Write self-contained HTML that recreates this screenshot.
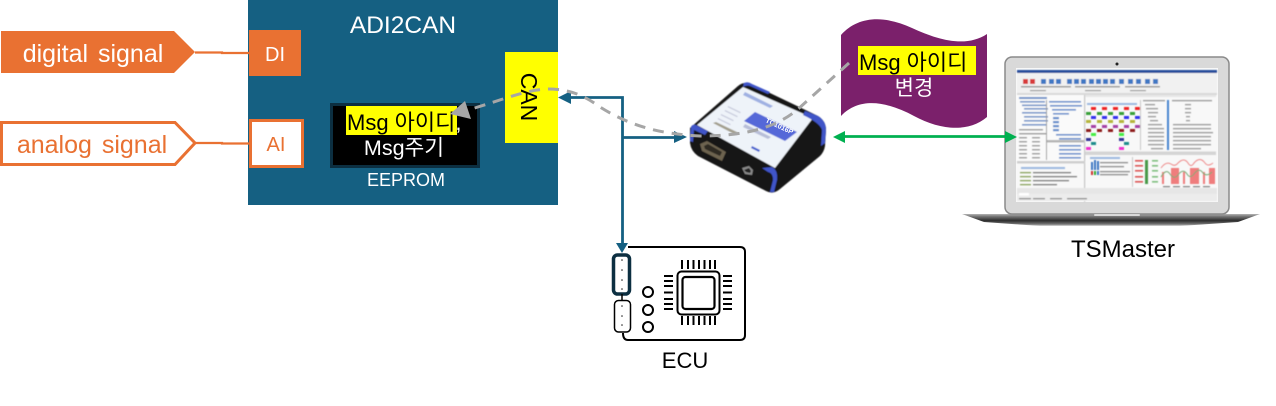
<!DOCTYPE html>
<html><head><meta charset="utf-8">
<style>
html,body{margin:0;padding:0;background:#fff;width:1276px;height:406px;overflow:hidden}
svg{display:block}
text{font-family:"Liberation Sans","Noto Sans CJK KR",sans-serif}
</style></head>
<body>
<svg width="1276" height="406" viewBox="0 0 1276 406" xmlns="http://www.w3.org/2000/svg">
<defs>
<filter id="b1" x="-5%" y="-5%" width="110%" height="110%"><feGaussianBlur stdDeviation="0.5"/></filter>
<filter id="b2" x="-5%" y="-5%" width="110%" height="110%"><feGaussianBlur stdDeviation="0.55"/></filter>
<linearGradient id="base" x1="0" y1="0" x2="0" y2="1"><stop offset="0" stop-color="#b5b5b5"/><stop offset=".2" stop-color="#777"/><stop offset=".55" stop-color="#2c2c2c"/><stop offset=".85" stop-color="#777"/><stop offset="1" stop-color="#ddd"/></linearGradient>
</defs>

<!-- ADI2CAN -->
<rect x="248" y="0" width="310" height="205" fill="#156082"/>
<text x="403" y="33" font-size="24.500" fill="#fff" text-anchor="middle">ADI2CAN</text>
<rect x="249" y="30" width="52" height="46" fill="#E97132"/>
<text x="275" y="61" font-size="20" fill="#fff" text-anchor="middle">DI</text>
<rect x="250.500" y="120.500" width="52" height="46" fill="#fff" stroke="#E97132" stroke-width="3"/>
<text x="276" y="151" font-size="20" fill="#E97132" text-anchor="middle">AI</text>

<rect x="505" y="52" width="53" height="91" fill="#ff0"/>
<text transform="translate(521,97) rotate(90)" font-size="23" fill="#000" text-anchor="middle">CAN</text>

<rect x="331.500" y="104.500" width="147" height="62" fill="#000" stroke="#0c2f41" stroke-width="3"/>
<rect x="346" y="106" width="111" height="29" fill="#ff0"/>
<text x="347" y="130" font-size="22" fill="#000">Msg 아이디<tspan fill="#fff">,</tspan></text>
<text x="404" y="155" font-size="21.500" fill="#fff" text-anchor="middle">Msg주기</text>
<text x="406" y="186" font-size="18" fill="#fff" text-anchor="middle">EEPROM</text>

<!-- signals -->
<polygon points="1,31 174,31 195,52 174,73 1,73" fill="#E97132"/>
<text x="93" y="62" font-size="25" fill="#fff" text-anchor="middle" word-spacing="3">digital signal</text>
<polygon points="1.500,122.500 175,122.500 195,143 175,164.500 1.500,164.500" fill="#fff" stroke="#E97132" stroke-width="3"/>
<text x="92" y="153" font-size="25" fill="#E97132" text-anchor="middle" word-spacing="3">analog signal</text>
<path d="M195 52.500H222V53H249" fill="none" stroke="#E97132" stroke-width="2.200"/>
<path d="M195 143H222V143.500H249" fill="none" stroke="#E97132" stroke-width="2.200"/>

<!-- device -->
<g filter="url(#b1)">
  <path d="M690 128 L738 86 Q744 81 751 84 L818 116 Q826 121 826 130 L825 146 Q824 152 820 156 L780 189 Q773 195 766 191 L698 156 Q691 151 690 143 Z" fill="#161616"/>
  <path d="M697 125 L743 87 L813 118 L775 168 Z" fill="#eef3f9"/>
  <path d="M691 127 Q692 124 696 125 L708 131 L705 135 L694 130 L693 142 L690 141 Z" fill="#3f55c8"/>
  <path d="M744 83 Q748 81 752 84 L770 92 L768 94 L750 86 Q746 85 743 87 Z" fill="#3f55c8"/>
  <path d="M805 111 L818 116 Q826 121 826 130 L825 143 L821 146 L822 130 Q820 123 803 115 Z" fill="#3f55c8"/>
  <path d="M762 168 L772 167 Q778 170 777 180 L774 192 L770 192 L773 180 Q773 173 768 172 Z" fill="#3f55c8"/>
  <polygon points="755,112 797,132 785,141 744,121" fill="#5467d8"/>
  <polygon points="745,92 773,106 770,108 743,95" fill="#9fb0e2"/>
  <g fill="#c7cbdc"><rect x="727" y="109" width="14" height="1.200" transform="rotate(26 734 110)"/><rect x="724" y="113" width="14" height="1.200" transform="rotate(26 731 114)"/><rect x="720" y="117" width="14" height="1.200" transform="rotate(26 727 118)"/><rect x="717" y="121" width="14" height="1.200" transform="rotate(26 724 122)"/></g>
  <polygon points="713,123 716,122 739,133 736,135" fill="#a39f8e"/>
  <polygon points="745,124 771,137 768,139 743,127" fill="#b8bed8"/>
  <polygon points="700,144 707,141 726,152 722,161 702,151" fill="#6d6350"/>
  <polygon points="704,146 708,144 722,152 720,156 705,149" fill="#2e2b24"/>
  <polygon points="742,168 749,166 753,170 752,175 745,174" fill="#8a8a8a"/>
  <polygon points="744,170 749,168 751,171 750,173 746,172" fill="#222"/>
  <path d="M752 146l8 4 -1 2 -8 -4z" fill="#4a63cf"/>
</g>
<text transform="translate(765,122) rotate(25)" font-size="7" fill="#fff" font-weight="bold">TC1016P</text>

<!-- purple wave -->
<path d="M841 35 C858 16 884 15 912 28 C938 40 966 48 987 34 L987 117 C968 133 940 130 914 116 C888 102 860 96 841 116 Z" fill="#7B206B"/>
<rect x="858" y="46" width="118" height="29" fill="#ff0"/>
<text x="859" y="70" font-size="22" fill="#000">Msg 아이디</text>
<text x="914" y="95" font-size="21" fill="#fff" text-anchor="middle">변경</text>

<!-- laptop -->
<polygon points="962,214 1260,214 1238,222 1180,226 1040,226 984,222" fill="url(#base)"/>
<rect x="1005" y="57" width="224" height="157" rx="7" fill="#d9d9d9" stroke="#8a8a8a" stroke-width="1.500"/>
<circle cx="1117" cy="64" r="1.500" fill="#222"/>
<rect x="1016" y="68" width="202" height="134" fill="#f8f8f8"/>
<g filter="url(#b2)">
  <rect x="1017" y="70" width="200" height="3" fill="#2b4f9c"/>
  <rect x="1017" y="73" width="200" height="20" fill="#f1f1f1"/>
  <rect x="1023" y="79" width="5" height="5" fill="#d83a3a"/><rect x="1030" y="79" width="5" height="5" fill="#d83a3a"/>
  <g fill="#3f78c4">
    <rect x="1041" y="79" width="5" height="5"/><rect x="1049" y="79" width="5" height="5"/><rect x="1056" y="79" width="5" height="5"/>
    <rect x="1067" y="79" width="5" height="5"/><rect x="1074" y="79" width="5" height="5"/><rect x="1081" y="79" width="5" height="5"/><rect x="1089" y="79" width="5" height="5"/>
    <rect x="1096" y="79" width="5" height="5"/><rect x="1103" y="79" width="5" height="5"/>
    <rect x="1110" y="79" width="5" height="5"/><rect x="1119" y="79" width="5" height="5"/><rect x="1128" y="79" width="5" height="5"/>
    <rect x="1136" y="79" width="5" height="5"/><rect x="1145" y="79" width="5" height="5"/><rect x="1153" y="79" width="5" height="5"/>
  </g>
  <g fill="#9a9a9a">
    <rect x="1021" y="86" width="50" height="1.500"/><rect x="1075" y="86" width="45" height="1.500"/><rect x="1125" y="86" width="35" height="1.500"/>
    <rect x="1030" y="90" width="16" height="1.200"/><rect x="1085" y="90" width="16" height="1.200"/><rect x="1130" y="90" width="16" height="1.200"/>
  </g>
  <rect x="1017" y="93" width="200" height="2" fill="#d9d9d9"/>
  <!-- left panels -->
  <rect x="1017" y="95" width="67" height="66" fill="#fafafa"/>
  <g fill="#6f93c9">
    <rect x="1019" y="97" width="28" height="2"/>
    <rect x="1020" y="101" width="25" height="1.600"/><rect x="1022" y="104.500" width="24" height="1.600"/><rect x="1024" y="108" width="24" height="1.600"/>
    <rect x="1022" y="112" width="24" height="1.600"/><rect x="1024" y="116" width="24" height="1.600"/><rect x="1024" y="120" width="24" height="1.600"/>
    <rect x="1022" y="124" width="24" height="1.600"/>
  </g>
  <g fill="#9c9c9c">
    <rect x="1019" y="129" width="24" height="1.500"/><rect x="1019" y="133" width="28" height="1.500"/>
    <rect x="1019" y="137" width="8" height="1.500"/><rect x="1032" y="137" width="8" height="1.500"/>
    <rect x="1019" y="141" width="8" height="1.500"/><rect x="1032" y="141" width="8" height="1.500"/>
    <rect x="1019" y="145" width="8" height="1.500"/><rect x="1032" y="145" width="8" height="1.500"/>
    <rect x="1019" y="149" width="8" height="1.500"/><rect x="1032" y="149" width="8" height="1.500"/>
    <rect x="1019" y="153" width="8" height="1.500"/><rect x="1032" y="153" width="8" height="1.500"/>
    <rect x="1019" y="157" width="8" height="1.500"/><rect x="1032" y="157" width="8" height="1.500"/>
    <rect x="1046" y="100" width="1" height="60"/>
  </g>
  <!-- tree panel -->
  <g fill="#5f8bcb">
    <rect x="1049" y="101" width="32" height="1.600"/><rect x="1050" y="105" width="32" height="1.600"/>
    <rect x="1052" y="109" width="24" height="1.600"/><rect x="1053" y="113" width="16" height="1.600"/>
    <rect x="1053" y="117" width="6" height="2.200"/><rect x="1053" y="121" width="6" height="2.200"/><rect x="1053" y="125" width="6" height="2.200"/>
    <rect x="1053" y="129" width="6" height="2.200"/><rect x="1056" y="134" width="25" height="1.600"/>
    <rect x="1059" y="138" width="22" height="1.600"/><rect x="1059" y="145" width="22" height="1.600"/><rect x="1059" y="149" width="22" height="1.600"/>
    <rect x="1059" y="153" width="22" height="1.600"/><rect x="1059" y="157" width="22" height="1.600"/>
  </g>
  <rect x="1047" y="140" width="37" height="2.500" fill="#b5b5b5"/>
  <rect x="1084" y="95" width="1.200" height="107" fill="#c5c5c5"/>
  <rect x="1017" y="161" width="68" height="2.500" fill="#cfcfcf"/>
  <!-- log -->
  <g fill="#88a35f">
    <rect x="1020" y="172" width="11" height="1.300"/><rect x="1020" y="176" width="11" height="1.300"/><rect x="1020" y="180" width="11" height="1.300"/><rect x="1020" y="184" width="11" height="1.300"/>
  </g>
  <g fill="#808080">
    <rect x="1033" y="172" width="38" height="1.300"/><rect x="1033" y="176" width="44" height="1.300"/><rect x="1033" y="180" width="36" height="1.300"/><rect x="1033" y="184" width="24" height="1.300"/>
  </g>
  <rect x="1021" y="167" width="44" height="2" fill="#9db9e0"/>
  <!-- graph nodes -->
  <rect x="1085" y="95" width="131" height="2" fill="#e6e6e6"/>
  <rect x="1087" y="103" width="50" height="2" fill="#9db9e0"/>
  <g>
    <rect x="1091" y="107" width="5" height="3" fill="#ee2222"/><rect x="1102" y="107" width="5" height="3" fill="#ee2222"/><rect x="1113" y="107" width="5" height="3" fill="#ee2222"/><rect x="1124" y="107" width="5" height="3" fill="#ee2222"/><rect x="1135" y="107" width="5" height="3" fill="#ee2222"/>
    <rect x="1086" y="112" width="5" height="3" fill="#39a039"/><rect x="1097" y="112" width="5" height="3" fill="#39a039"/><rect x="1108" y="112" width="5" height="3" fill="#39a039"/><rect x="1119" y="112" width="5" height="3" fill="#39a039"/><rect x="1130" y="112" width="5" height="3" fill="#39a039"/>
    <rect x="1091" y="116" width="5" height="3" fill="#3333ee"/><rect x="1102" y="116" width="5" height="3" fill="#3333ee"/><rect x="1113" y="116" width="5" height="3" fill="#3333ee"/><rect x="1124" y="116" width="5" height="3" fill="#3333ee"/><rect x="1135" y="116" width="5" height="3" fill="#3333ee"/>
    <rect x="1086" y="120" width="5" height="3" fill="#b5b53a"/><rect x="1097" y="120" width="5" height="3" fill="#b5b53a"/><rect x="1108" y="120" width="5" height="3" fill="#b5b53a"/><rect x="1119" y="120" width="5" height="3" fill="#b5b53a"/><rect x="1130" y="120" width="5" height="3" fill="#b5b53a"/>
    <rect x="1091" y="125" width="5" height="3" fill="#a540a5"/><rect x="1102" y="125" width="5" height="3" fill="#a540a5"/><rect x="1113" y="125" width="5" height="3" fill="#a540a5"/><rect x="1124" y="125" width="5" height="3" fill="#a540a5"/><rect x="1135" y="125" width="5" height="3" fill="#a540a5"/>
    <rect x="1086" y="129" width="5" height="3" fill="#8e1f1f"/><rect x="1097" y="129" width="5" height="3" fill="#8e1f1f"/><rect x="1108" y="129" width="5" height="3" fill="#8e1f1f"/><rect x="1119" y="129" width="5" height="3" fill="#8e1f1f"/><rect x="1130" y="129" width="5" height="3" fill="#8e1f1f"/>
    <rect x="1091" y="133" width="5" height="3" fill="#44ee44"/><rect x="1119" y="133" width="5" height="3" fill="#44ee44"/>
    <rect x="1086" y="138" width="5" height="3" fill="#303098"/><rect x="1119" y="138" width="5" height="3" fill="#303098"/>
    <rect x="1091" y="142" width="5" height="3" fill="#1f8c8c"/><rect x="1124" y="142" width="5" height="3" fill="#1f8c8c"/>
    <rect x="1086" y="147" width="5" height="3" fill="#ee33cc"/><rect x="1119" y="147" width="5" height="3" fill="#ee33cc"/>
  </g>
  <rect x="1140" y="100" width="1" height="50" fill="#c8c8c8"/>
  <!-- table -->
  <rect x="1167" y="100" width="2" height="50" fill="#4a86d0"/>
  <g fill="#9a9a9a">
    <rect x="1143" y="100" width="22" height="1.300"/><rect x="1172" y="100" width="40" height="1.300"/>
    <rect x="1145" y="104" width="10" height="1.300"/><rect x="1185" y="104" width="6" height="1.300"/>
    <rect x="1146" y="108" width="12" height="1.300"/><rect x="1185" y="108" width="6" height="1.300"/>
    <rect x="1148" y="112" width="10" height="1.300"/><rect x="1185" y="112" width="6" height="1.300"/>
    <rect x="1148" y="116" width="8" height="1.300"/><rect x="1186" y="116" width="4" height="1.300"/>
    <rect x="1150" y="120" width="8" height="1.300"/><rect x="1186" y="120" width="4" height="1.300"/>
    <rect x="1148" y="124" width="14" height="1.300"/><rect x="1173" y="124" width="38" height="1.300"/>
    <rect x="1148" y="128" width="16" height="1.300"/><rect x="1173" y="128" width="38" height="1.300"/>
    <rect x="1148" y="132" width="16" height="1.300"/><rect x="1173" y="132" width="40" height="1.300"/>
    <rect x="1148" y="136" width="16" height="1.300"/><rect x="1173" y="136" width="38" height="1.300"/>
    <rect x="1148" y="140" width="16" height="1.300"/><rect x="1173" y="140" width="38" height="1.300"/>
    <rect x="1148" y="144" width="16" height="1.300"/><rect x="1173" y="144" width="38" height="1.300"/>
    <rect x="1151" y="148" width="12" height="1.300"/><rect x="1173" y="148" width="28" height="1.300"/>
  </g>
  <!-- bottom panels -->
  <rect x="1085" y="151.500" width="131" height="3.500" fill="#d5d5d5"/>
  <rect x="1090" y="157" width="30" height="2" fill="#9db9e0"/>
  <rect x="1091" y="162" width="2" height="8" fill="#3f78c4"/><rect x="1094" y="160" width="2" height="10" fill="#3f78c4"/><rect x="1097" y="161" width="2" height="9" fill="#3f78c4"/>
  <rect x="1091" y="171" width="2" height="4" fill="#c33"/><rect x="1094" y="171" width="2" height="4" fill="#3a3"/><rect x="1097" y="171" width="2" height="4" fill="#3f78c4"/>
  <g fill="#8f8f8f"><rect x="1100" y="162" width="28" height="1.300"/><rect x="1100" y="166" width="24" height="1.300"/><rect x="1100" y="171" width="30" height="1.300"/><rect x="1100" y="174" width="28" height="1.300"/></g>
  <rect x="1132" y="157" width="1" height="30" fill="#c8c8c8"/>
  <rect x="1135" y="160" width="8" height="1.600" fill="#d55"/><rect x="1135" y="165" width="8" height="1.600" fill="#d55"/><rect x="1135" y="170" width="8" height="1.600" fill="#d55"/><rect x="1135" y="176" width="8" height="1.600" fill="#d55"/><rect x="1135" y="181" width="8" height="1.600" fill="#d55"/>
  <rect x="1145" y="160" width="3" height="24" fill="#4a9a4a"/>
  <g fill="#7fbf7f"><rect x="1152" y="160" width="6" height="1.600"/><rect x="1152" y="165" width="6" height="1.600"/><rect x="1152" y="170" width="6" height="1.600"/><rect x="1152" y="176" width="6" height="1.600"/><rect x="1152" y="181" width="6" height="1.600"/></g>
  <g fill="#ef7d7d">
    <rect x="1171" y="168" width="8" height="16"/><rect x="1190" y="168" width="9" height="16"/><rect x="1209" y="168" width="6" height="16"/>
    <rect x="1162" y="172" width="2" height="12"/><rect x="1183" y="172" width="2" height="12"/><rect x="1203" y="172" width="2" height="12"/>
  </g>
  <path d="M1161 168q5 -7 10 -4q4 3 7 -1q6 -6 10 0q3 5 6 0q6 -7 11 0q3 4 8 0" fill="none" stroke="#e88" stroke-width="1"/>
  <path d="M1161 177q5 -9 9 -3q4 6 8 1q5 -7 9 -1q3 5 7 0q5 -7 9 -1q4 4 9 -1" fill="none" stroke="#7a7" stroke-width="1"/>
  <g fill="#888"><rect x="1163" y="186" width="7" height="1.300"/><rect x="1173" y="186" width="7" height="1.300"/><rect x="1183" y="186" width="7" height="1.300"/><rect x="1193" y="186" width="7" height="1.300"/><rect x="1203" y="186" width="7" height="1.300"/></g>
  <rect x="1017" y="188" width="200" height="6" fill="#e6e6e6"/>
  <rect x="1017" y="194" width="200" height="7" fill="#ececec"/>
  <rect x="1019" y="193" width="10" height="2.500" fill="#fff"/>
  <g fill="#8a8a8a"><rect x="1019" y="198" width="12" height="1.300"/><rect x="1033" y="198" width="12" height="1.300"/><rect x="1050" y="198" width="12" height="1.300"/><rect x="1067" y="198" width="20" height="1.300"/></g>
</g>
<rect x="1094" y="214" width="46" height="2" rx="1" fill="#d8d8d8"/>
<text x="1123" y="257" font-size="24" fill="#000" text-anchor="middle">TSMaster</text>

<!-- ECU -->
<g fill="none" stroke="#000" stroke-width="2">
  <path d="M628 247H740Q745 247 745 252V335Q745 340 740 340H628Q623 340 623 333"/>
  <circle cx="648" cy="292" r="5"/><circle cx="648" cy="310" r="5"/><circle cx="648" cy="327" r="5"/>
  <rect x="677.500" y="271.500" width="42" height="43" rx="4"/>
  <rect x="682.500" y="277" width="32" height="32" rx="3" stroke-width="2.200"/>
  <path d="M682 260v9M688 260v9M693.500 260v9M699 260v9M704.500 260v9M710 260v9M715 260v9"/>
  <path d="M682 316v9M688 316v9M693.500 316v9M699 316v9M704.500 316v9M710 316v9M715 316v9"/>
  <path d="M664 276h9M664 281h9M664 286h9M664 292.500h9M664 299h9M664 304h9M664 309h9"/>
  <path d="M723 276h9M723 281h9M723 286h9M723 292.500h9M723 299h9M723 304h9M723 309h9"/>
</g>
<rect x="613.500" y="255" width="16" height="39" rx="4" fill="#fff" stroke="#0c2f41" stroke-width="3.500"/>
<rect x="614.500" y="300.500" width="16" height="31.500" rx="4" fill="#fff" stroke="#000" stroke-width="1.500"/>
<path d="M622 294v6" stroke="#000" stroke-width="1.500"/>
<g fill="#222"><circle cx="622" cy="260" r=".8"/><circle cx="622" cy="270" r=".8"/><circle cx="622" cy="280" r=".8"/><circle cx="622" cy="289" r=".8"/><circle cx="622" cy="306" r=".8"/><circle cx="622" cy="316" r=".8"/><circle cx="622" cy="325" r=".8"/></g>
<text x="685" y="368" font-size="22" fill="#000" text-anchor="middle">ECU</text>

<!-- blue connectors -->
<path d="M570 97.500H622.500V137.500M622.500 137.500H676M622.500 137.500V244" fill="none" stroke="#156082" stroke-width="2.800"/>
<polygon points="558,97.500 571,91 571,104" fill="#156082"/>
<polygon points="687,137 674,131 674,143" fill="#156082"/>
<polygon points="622,253 616,243 628,243" fill="#156082"/>

<!-- green connector -->
<path d="M844 136.500H1006" fill="none" stroke="#00B050" stroke-width="2.800"/>
<polygon points="833,137 845,131 845,143" fill="#00B050"/>
<polygon points="1017,137 1005,131 1005,143" fill="#00B050"/>

<!-- grey dashed -->
<path d="M849 63L797 110C775 128 745 136 700 136C660 134 630 126 600 107C585 96 570 89 548 89C525 90 505 99 468 110" fill="none" stroke="#A6A6A6" stroke-width="3" stroke-dasharray="11 8"/>
<polygon points="450,114 465,101 471,119" fill="#A6A6A6"/>
</svg>
</body></html>
